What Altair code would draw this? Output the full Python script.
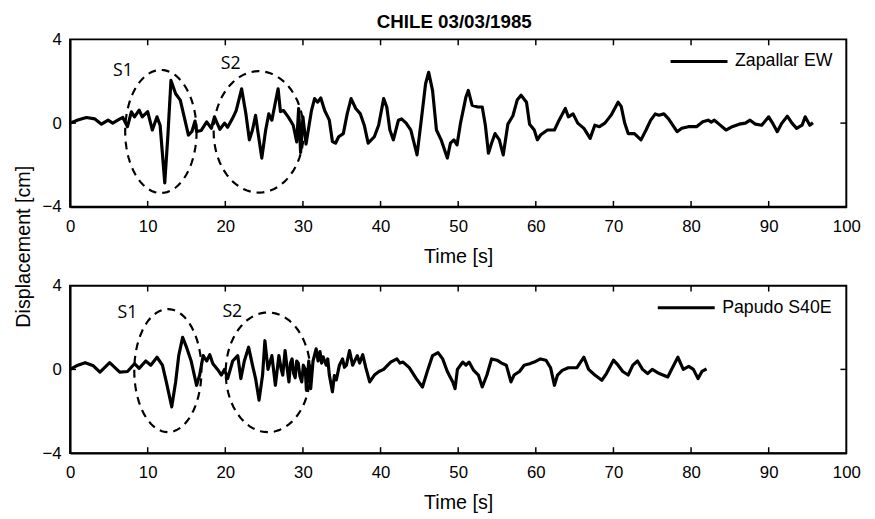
import altair as alt
import pandas as pd
import numpy as np

# ---------------- data ----------------
zap_t = [0, 1.0, 2.1, 3.2, 4.05, 4.9, 5.5, 6.2, 6.8, 7.4, 7.9, 8.3, 8.9, 9.3, 10.0, 10.6, 11.2, 11.6,
         12.2, 12.6, 13.0, 13.6, 14.2, 14.8, 15.25, 15.7, 16.1, 16.3, 16.9, 17.6, 18.2, 18.6, 19.3,
         19.9, 20.3, 20.95, 21.4, 22.1, 22.65, 23.1, 23.5, 23.9, 24.2, 24.7, 25.2, 25.6, 26.0, 26.45,
         26.8, 27.1, 27.5, 28.1, 28.75, 29.2, 29.45, 29.7, 30.0, 30.4, 31.1, 31.5, 31.9, 32.3, 32.8,
         33.4, 33.8, 34.2, 34.6, 35.2, 35.7, 36.2, 36.8, 37.4, 37.9, 38.4, 39.2, 39.75, 40.4, 40.8,
         41.2, 41.65, 42.3, 42.7, 43.3, 43.9, 44.7, 45.2, 45.8, 46.2, 46.7, 47.2, 47.8, 48.6, 49.0,
         49.45, 49.85, 50.3, 51.0, 51.3, 51.8, 52.5, 53.1, 53.5, 53.9, 54.3, 54.75, 55.3, 55.8, 56.4,
         57.05, 57.6, 58.1, 58.8, 59.2, 59.8, 60.2, 60.6, 61.5, 62.4, 63.0, 63.8, 64.2, 64.8, 65.4,
         66.2, 67.0, 67.6, 68.2, 68.9, 69.7, 70.6, 71.0, 71.45, 71.9, 72.7, 73.55, 74.2, 74.8, 75.4,
         75.85, 76.5, 77.1, 78.2, 78.8, 79.65, 80.7, 81.5, 82.2, 82.6, 83.0, 83.6, 84.5, 85.3, 86.2,
         87.0, 87.6, 88.3, 89.1, 90.0, 90.5, 91.1, 91.7, 92.4, 93.0, 93.6, 94.3, 94.7, 95.3, 95.7]
zap_v = [0, 0.15, 0.27, 0.2, -0.05, 0.14, 0.0, 0.15, 0.27, -0.17, 0.54, 0.3, 0.62, 0.3, 0.55, -0.33, 0.3, -0.1,
         -2.86, -0.6, 2.04, 1.4, 1.1, 0.14, -0.57, -0.4, 0.1, -0.4, -0.35, 0.06, -0.25, 0.3, -0.3,
         0.0, -0.2, 0.24, 0.6, 1.64, 0.45, -0.8, -0.33, 0.37, -0.42, -1.67, -0.33, 0.44, 0.14, 1.0,
         1.64, 0.55, 0.6, 0.3, -0.1, -0.9, 0.7, -1.4, 0.3, -1.0, 0.6, 1.17, 1.0, 1.2, 0.6,
         0.14, -0.88, -0.96, -0.65, -0.5, 0.44, 1.17, 0.7, 0.44, -0.1, -0.96, -0.65, -0.1, 1.17, 0.77,
         -0.33, -0.8, 0.14, 0.2, 0.0, -0.33, -1.52, 0.0, 1.88, 2.43, 1.55, -0.33, -0.8, -1.67, -0.96,
         -0.8, -1.04, 0.0, 1.25, 1.56, 0.85, 0.77, 0.77, -0.1, -1.44, -0.96, -0.5, -0.8, -1.52, -0.05,
         0.35, 1.1, 1.33, 1.0, -0.05, -0.33, -0.8, -0.57, -0.33, -0.33, 0.14, 0.7, 0.3, 0.44, 0.0,
         -0.25, -0.73, -0.1, -0.17, 0.0, 0.38, 1.0, 0.8, 0.0, -0.5, -0.5, -0.8, -0.33, 0.14, 0.44,
         0.38, 0.44, 0.2, -0.41, -0.25, -0.17, -0.17, 0.06, 0.14, 0.05, 0.14, -0.05, -0.33, -0.17, -0.05,
         0.0, 0.14, -0.05, -0.1, 0.3, 0.0, -0.41, 0.0, 0.33, 0.0, -0.25, -0.1, 0.3, -0.1, 0.02]

pap_t = [0, 1.0, 1.95, 3.0, 3.85, 5.1, 6.4, 7.4, 8.3, 8.9, 9.75, 10.4, 11.2, 11.9, 12.4, 13.1, 13.6,
         14.0, 14.5, 15.0, 15.6, 16.3, 16.7, 17.15, 17.6, 18.0, 18.4, 19.0, 19.5, 19.9, 20.3, 20.95,
         21.6, 22.0, 22.45, 23.0, 23.5, 23.9, 24.35, 24.8, 25.1, 25.5, 26.0, 26.45, 26.9, 27.2, 27.4,
         27.7, 27.95, 28.2, 28.4, 28.6, 28.8, 29.0, 29.2, 29.4, 29.6, 29.85, 30.05, 30.3, 30.45, 30.75,
         31.0, 31.3, 31.7, 31.95, 32.2, 32.4, 32.6, 33.0, 33.2, 33.4, 33.8, 34.05, 34.3, 34.7, 35.1,
         35.35, 35.6, 36.0, 36.4, 37.0, 37.3, 37.7, 38.1, 38.6, 39.2, 39.8, 40.4, 41.3, 42.1, 42.5,
         42.9, 43.7, 44.6, 45.4, 46.1, 46.7, 47.4, 48.0, 48.6, 49.3, 49.6, 49.9, 50.6, 51.0, 51.4,
         52.0, 52.6, 53.1, 53.7, 54.3, 55.0, 55.6, 56.2, 56.8, 57.2, 57.9, 58.5, 59.2, 59.8, 60.6,
         61.3, 61.9, 62.4, 62.8, 63.4, 64.2, 65.3, 66.2, 66.8, 67.6, 68.5, 69.1, 70.0, 70.6, 71.2,
         71.9, 72.5, 73.1, 73.75, 74.4, 75.0, 75.9, 77.0, 77.6, 78.3, 79.0, 79.7, 80.3, 80.9, 81.4, 82.0]
pap_v = [0, 0.2, 0.32, 0.17, -0.13, 0.32, -0.13, -0.1, 0.27, 0.05, 0.4, 0.2, 0.58, 0.2, -0.6, -1.79, -0.6,
         0.66, 1.53, 1.06, 0.4, -0.76, -0.27, 0.66, 0.4, 0.7, 0.27, 0.0, -0.27, 0.0, -0.44, 0.4,
         0.66, -0.44, 0.4, 1.06, 0.2, -0.44, -1.47, -0.27, 1.37, 0.0, 0.66, -0.76, 0.66, 0.0, -0.27,
         0.9, 0.1, -0.6, 0.3, 0.5, -0.2, -0.4, 0.4, 0.3, -0.3, -0.6, 0.2, 0.0, -1.0, 0.4,
         -0.92, 0.4, 0.98, 0.4, 0.85, 0.3, 0.6, 0.2, 0.5, -0.27, -1.07, -0.3, -0.5, 0.2, 0.5,
         0.1, 0.2, 0.9, 0.2, 0.66, 0.3, 0.7, 0.08, -0.6, -0.27, -0.1, 0.0, 0.35, 0.5, 0.3,
         0.35, 0.08, -0.44, -0.84, 0.0, 0.66, 0.8, 0.5, -0.1, -0.6, -0.92, 0.0, 0.35, 0.2, 0.35,
         -0.05, -0.27, -0.84, -0.27, 0.5, 0.44, 0.3, 0.2, -0.6, -0.27, -0.1, 0.2, 0.27, 0.35, 0.5,
         0.44, 0.08, -0.76, -0.27, -0.05, 0.08, 0.08, 0.58, 0.0, -0.27, -0.52, -0.2, 0.44, 0.2, -0.1,
         -0.27, 0.2, 0.4, 0.0, -0.2, 0.0, -0.2, -0.36, 0.08, 0.58, 0.0, 0.14, 0.0, -0.44, -0.1, 0.02]

x_ticks = [0, 10, 20, 30, 40, 50, 60, 70, 80, 90, 100]
y_ticks = [-4, 0, 4]

# dashed ellipse annotations: label, centre time, centre displacement, half-width, half-height
top_ell_label = ["S1", "S2"]
top_ell_cx = [11.7, 24.3]
top_ell_cy = [-0.4, -0.42]
top_ell_rx = [4.6, 5.8]
top_ell_ry = [2.94, 2.9]
top_lab_t = [6.8, 20.7]
top_lab_v = [2.5, 2.8]

bot_ell_label = ["S1", "S2"]
bot_ell_cx = [12.6, 25.5]
bot_ell_cy = [-0.06, -0.14]
bot_ell_rx = [4.33, 5.45]
bot_ell_ry = [2.94, 2.86]
bot_lab_t = [7.4, 20.9]
bot_lab_v = [2.7, 2.75]

W, H = 788, 170
FONT = "Liberation Sans"


def ellipse_df(labels, cx, cy, rx, ry):
    rows = []
    ang = np.linspace(0, 2 * np.pi, 73)
    for lab, a, b, r1, r2 in zip(labels, cx, cy, rx, ry):
        for i, th in enumerate(ang):
            rows.append({"lab": lab, "i": i, "t": a + r1 * np.cos(th), "v": b + r2 * np.sin(th)})
    return pd.DataFrame(rows)


def panel(t, v, name, ell, lab_t, lab_v, labels, y_title, legend_x):
    xs = alt.X("t:Q", scale=alt.Scale(domain=[0, 100], nice=False, zero=False),
               axis=alt.Axis(values=x_ticks, title="Time [s]", ticks=False, grid=False,
                             labelFlush=False, labelPadding=12, titlePadding=12))
    yax = dict(values=y_ticks, ticks=False, grid=False, labelPadding=9, labelFlush=False)
    if y_title:
        yax.update(title="Displacement [cm]", titleX=-47, titleY=H + 40, titleAngle=270,
                   titleBaseline="middle", titleAlign="center")
    else:
        yax.update(title=None)
    ys = alt.Y("v:Q", scale=alt.Scale(domain=[-4, 4], nice=False), axis=alt.Axis(**yax))

    df = pd.DataFrame({"t": t, "v": v, "series": name})
    line = alt.Chart(df).mark_line(strokeWidth=3.2, strokeJoin="round").encode(
        x=xs, y=ys,
        color=alt.Color("series:N", scale=alt.Scale(range=["black"]),
                        legend=alt.Legend(title=None, orient="none", legendX=legend_x, legendY=-8,
                                          padding=0, symbolType="stroke", symbolSize=3340,
                                          symbolStrokeWidth=3, labelFontSize=18,
                                          labelFont=FONT, labelOffset=6)))
    edf = ellipse_df(*ell)
    ellipses = alt.Chart(edf).mark_line(color="black", strokeWidth=2.2, strokeDash=[8, 6]).encode(
        x=xs, y=ys, detail="lab:N", order="i:Q")
    ldf = pd.DataFrame({"t": lab_t, "v": lab_v, "lab": labels})
    texts = alt.Chart(ldf).mark_text(font="Open Sans", fontSize=18, color="black").encode(
        x=xs, y=ys, text="lab:N")

    tdf = pd.DataFrame({"t": x_ticks[1:-1]})
    tick_b = alt.Chart(tdf).mark_rule(color="black", strokeWidth=1.5).encode(
        x=xs, y=alt.value(H), y2=alt.value(H - 6))
    tick_t = alt.Chart(tdf).mark_rule(color="black", strokeWidth=1.5).encode(
        x=xs, y=alt.value(0), y2=alt.value(6))
    ydf = pd.DataFrame({"v": [0]})
    tick_l = alt.Chart(ydf).mark_rule(color="black", strokeWidth=1.5).encode(
        y=ys, x=alt.value(0), x2=alt.value(6))
    tick_r = alt.Chart(ydf).mark_rule(color="black", strokeWidth=1.5).encode(
        y=ys, x=alt.value(W - 6), x2=alt.value(W))

    return alt.layer(ellipses, line, texts, tick_b, tick_t, tick_l, tick_r).properties(width=W, height=H)


top = panel(zap_t, zap_v, "Zapallar EW",
            (top_ell_label, top_ell_cx, top_ell_cy, top_ell_rx, top_ell_ry),
            top_lab_t, top_lab_v, top_ell_label, True, 608).properties(
    title=alt.TitleParams("CHILE 03/03/1985", fontSize=19, font=FONT, fontWeight="bold",
                          anchor="middle", frame="group", dx=-4, offset=-1))
bot = panel(pap_t, pap_v, "Papudo S40E",
            (bot_ell_label, bot_ell_cx, bot_ell_cy, bot_ell_rx, bot_ell_ry),
            bot_lab_t, bot_lab_v, bot_ell_label, False, 595)

chart = alt.vconcat(top, bot, spacing=80, bounds="flush").resolve_scale(
    color="independent").resolve_legend(color="independent").properties(
    padding={"left": 5, "top": 0, "right": 5, "bottom": 0}).configure(font=FONT).configure_view(
    stroke="black", strokeWidth=2).configure_axis(
    domainColor="black", domainWidth=2, labelFont=FONT, labelFontSize=17, labelColor="black",
    titleFont=FONT, titleFontSize=20, titleFontWeight="normal", titleColor="black")

chart.save("out.html", embed_options={"renderer": "svg", "actions": False})
